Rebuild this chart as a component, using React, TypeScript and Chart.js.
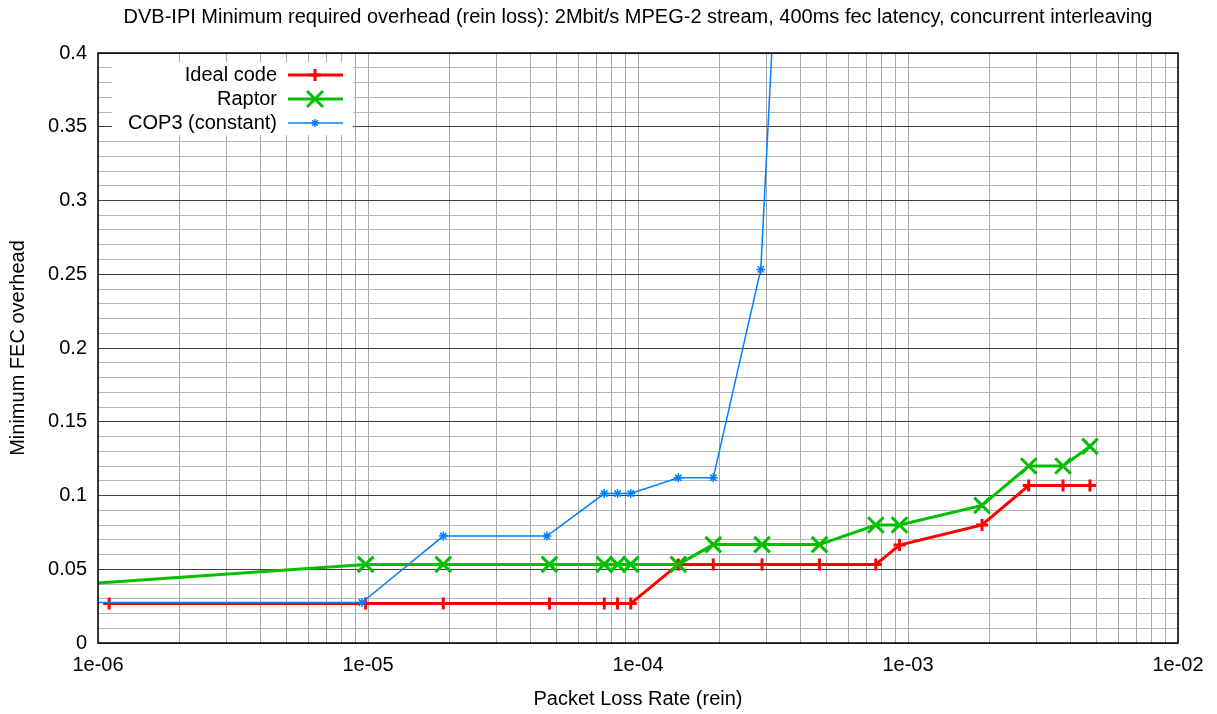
import React, { useEffect, useRef } from 'react';
import { Chart, registerables } from 'chart.js';

Chart.register(...registerables);

const TITLE = 'DVB-IPI Minimum required overhead (rein loss): 2Mbit/s MPEG-2 stream, 400ms fec latency, concurrent interleaving';
const X_TITLE = 'Packet Loss Rate (rein)';
const Y_TITLE = 'Minimum FEC overhead';
const SERIES_NAMES = ['Ideal code', 'Raptor', 'COP3 (constant)'];

const idealX = [1.1e-6, 9.8e-6, 1.9e-5, 4.7e-5, 7.5e-5, 8.4e-5, 9.4e-5, 1.41e-4, 1.9e-4, 2.88e-4, 4.7e-4, 7.6e-4, 9.3e-4, 1.88e-3, 2.8e-3, 3.75e-3, 4.72e-3];
const idealY = [0.0267, 0.0267, 0.0267, 0.0267, 0.0267, 0.0267, 0.0267, 0.0533, 0.0533, 0.0533, 0.0533, 0.0533, 0.0664, 0.08, 0.1067, 0.1067, 0.1067];

const raptorX = [8e-8, 9.8e-6, 1.9e-5, 4.7e-5, 7.5e-5, 8.4e-5, 9.4e-5, 1.41e-4, 1.9e-4, 2.88e-4, 4.7e-4, 7.6e-4, 9.3e-4, 1.88e-3, 2.8e-3, 3.75e-3, 4.72e-3];
const raptorY = [0.0267, 0.0533, 0.0533, 0.0533, 0.0533, 0.0533, 0.0533, 0.0533, 0.0667, 0.0667, 0.0667, 0.08, 0.08, 0.0933, 0.12, 0.12, 0.1333];

const cop3X = [5e-7, 9.5e-6, 1.9e-5, 4.6e-5, 7.5e-5, 8.4e-5, 9.4e-5, 1.41e-4, 1.9e-4, 2.85e-4, 4.7e-4];
const cop3Y = [0.0274, 0.0274, 0.0725, 0.0725, 0.1013, 0.1013, 0.1013, 0.112, 0.112, 0.2533, 1.04];

const X_MIN = 1e-6;
const X_MAX = 1e-2;
const Y_MIN = 0;
const Y_MAX = 0.4;
const X_DECADE_EXPONENTS = [-6, -5, -4, -3];
const Y_MINOR_STEP = 0.01;

const COLORS = ['#ff0000', '#00c000', '#0080ff'];
const FONT = "'Liberation Sans', Arial, Helvetica, sans-serif";

const toPoints = (xs: number[], ys: number[]) => xs.map((x, i) => ({ x, y: ys[i] }));

const titlePlugin = {
  id: 'plotTitle',
  afterDraw(chart: any) {
    const { ctx, chartArea: a } = chart;
    ctx.save();
    ctx.fillStyle = '#000';
    ctx.font = `20px ${FONT}`;
    ctx.textAlign = 'center';
    ctx.textBaseline = 'middle';
    ctx.fillText(TITLE, (a.left + a.right) / 2, 17);
    ctx.restore();
  },
};

const framePlugin = {
  id: 'frame',
  afterDatasetsDraw(chart: any) {
    const { ctx, chartArea: a } = chart;
    ctx.save();
    ctx.strokeStyle = '#000';
    ctx.lineWidth = 1.5;
    ctx.strokeRect(a.left, a.top, a.right - a.left, a.bottom - a.top);
    ctx.restore();
  },
};

const legendPlugin = {
  id: 'gnuLegend',
  afterDraw(chart: any) {
    const ctx = chart.ctx;
    const a = chart.chartArea;
    ctx.save();
    ctx.fillStyle = '#ffffff';
    ctx.fillRect(a.left + 14, a.top + 9, 241, 73);
    ctx.font = `20px ${FONT}`;
    ctx.textAlign = 'right';
    ctx.textBaseline = 'middle';
    const textRight = a.left + 179;
    const lineL = a.left + 190;
    const lineR = a.left + 245;
    const mx = a.left + 217;
    const widths = [3, 3, 1.5];
    SERIES_NAMES.forEach((name, i) => {
      const y = a.top + 22 + i * 24;
      ctx.fillStyle = '#000';
      ctx.fillText(name, textRight, y);
      ctx.strokeStyle = COLORS[i];
      ctx.lineWidth = widths[i];
      ctx.beginPath();
      ctx.moveTo(lineL, y);
      ctx.lineTo(lineR, y);
      ctx.stroke();
      ctx.beginPath();
      if (i === 0) {
        ctx.moveTo(mx, y - 6);
        ctx.lineTo(mx, y + 6);
        ctx.moveTo(mx - 6, y);
        ctx.lineTo(mx + 6, y);
      } else if (i === 1) {
        const d = 8;
        ctx.moveTo(mx - d, y - d);
        ctx.lineTo(mx + d, y + d);
        ctx.moveTo(mx - d, y + d);
        ctx.lineTo(mx + d, y - d);
      } else {
        const r = 4;
        const d = r * 0.707;
        ctx.moveTo(mx - r, y);
        ctx.lineTo(mx + r, y);
        ctx.moveTo(mx, y - r);
        ctx.lineTo(mx, y + r);
        ctx.moveTo(mx - d, y - d);
        ctx.lineTo(mx + d, y + d);
        ctx.moveTo(mx - d, y + d);
        ctx.lineTo(mx + d, y - d);
      }
      ctx.stroke();
    });
    ctx.restore();
  },
};

export default function App() {
  const canvasRef = useRef<HTMLCanvasElement | null>(null);

  useEffect(() => {
    const canvas = canvasRef.current;
    if (!canvas) return;

    const chart = new Chart(canvas, {
      type: 'line',
      data: {
        datasets: [
          {
            label: SERIES_NAMES[0],
            data: toPoints(idealX, idealY),
            borderColor: COLORS[0],
            backgroundColor: COLORS[0],
            borderWidth: 3,
            pointStyle: 'cross',
            pointRadius: 6,
            pointBorderWidth: 3,
            pointBorderColor: COLORS[0],
            pointHoverRadius: 6,
            tension: 0,
            order: 3,
          },
          {
            label: SERIES_NAMES[1],
            data: toPoints(raptorX, raptorY),
            borderColor: COLORS[1],
            backgroundColor: COLORS[1],
            borderWidth: 3,
            pointStyle: 'crossRot',
            pointRadius: 11,
            pointBorderWidth: 3,
            pointBorderColor: COLORS[1],
            pointHoverRadius: 11,
            tension: 0,
            order: 2,
          },
          {
            label: SERIES_NAMES[2],
            data: toPoints(cop3X, cop3Y),
            borderColor: COLORS[2],
            backgroundColor: COLORS[2],
            borderWidth: 1.5,
            pointStyle: 'star',
            pointRadius: 4.5,
            pointBorderWidth: 1.5,
            pointBorderColor: COLORS[2],
            pointHoverRadius: 4.5,
            tension: 0,
            order: 1,
          },
        ],
      },
      options: {
        animation: false,
        responsive: true,
        maintainAspectRatio: false,
        events: [],
        layout: { padding: { top: 53, left: 0, right: 39, bottom: 0 } },
        plugins: {
          legend: { display: false },
          tooltip: { enabled: false },
          title: { display: false },
        },
        scales: {
          x: {
            type: 'logarithmic',
            min: X_MIN,
            max: X_MAX,
            afterFit: (scale: any) => {
              scale.height = 71;
            },
            afterBuildTicks: (scale: any) => {
              const ticks: { value: number }[] = [];
              X_DECADE_EXPONENTS.forEach((e) => {
                for (let m = 1; m <= 9; m++) {
                  ticks.push({ value: Number((m * Math.pow(10, e)).toPrecision(6)) });
                }
              });
              ticks.push({ value: X_MAX });
              scale.ticks = ticks;
            },
            ticks: {
              autoSkip: false,
              maxRotation: 0,
              padding: 10,
              color: '#000',
              font: { family: FONT, size: 20 },
              callback: (value: any) => {
                const v = Number(value);
                const l = Math.log10(v);
                const r = Math.round(l);
                if (Math.abs(l - r) < 1e-6) {
                  return '1e-' + String(-r).padStart(2, '0');
                }
                return '';
              },
            },
            grid: {
              color: '#a8a8a8',
              lineWidth: 1,
              drawTicks: false,
            },
            border: { display: false },
            title: {
              display: true,
              text: X_TITLE,
              color: '#000',
              font: { family: FONT, size: 20 },
              padding: { top: 0, bottom: 3 },
            },
          },
          y: {
            type: 'linear',
            min: Y_MIN,
            max: Y_MAX,
            afterFit: (scale: any) => {
              scale.width = 98;
            },
            ticks: {
              stepSize: Y_MINOR_STEP,
              autoSkip: false,
              padding: 11,
              color: '#000',
              font: { family: FONT, size: 20 },
              callback: (value: any) => {
                const v = Math.round(Number(value) * 100);
                if (v % 5 === 0) return String(v / 100);
                return '';
              },
            },
            grid: {
              color: (ctx: any) => {
                const v = Math.round((ctx.tick?.value ?? 0) * 100);
                return v % 5 === 0 ? '#404040' : '#b4b4b4';
              },
              lineWidth: 1,
              drawTicks: false,
            },
            border: { display: false },
            title: {
              display: true,
              text: Y_TITLE,
              color: '#000',
              font: { family: FONT, size: 20 },
              padding: { top: 6, bottom: 0 },
            },
          },
        },
      },
      plugins: [framePlugin, legendPlugin, titlePlugin],
    } as any);

    return () => {
      chart.destroy();
    };
  }, []);

  return (
    <div style={{ position: 'fixed', left: 0, top: 0, width: 1217, height: 714, background: '#fff' }}>
      <canvas ref={canvasRef} />
    </div>
  );
}
